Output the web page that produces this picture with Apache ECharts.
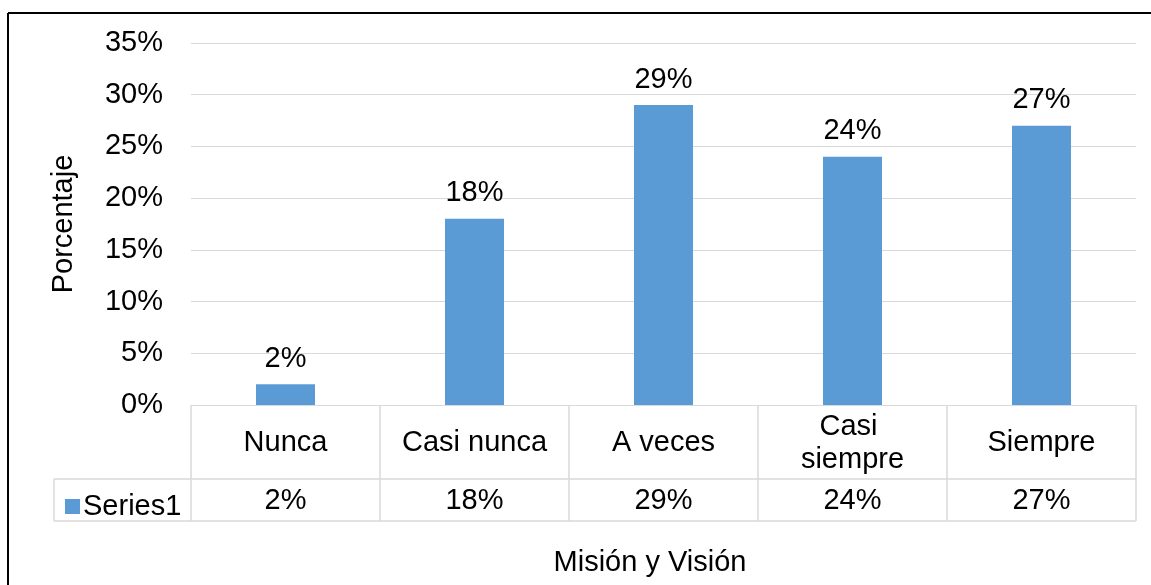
<!DOCTYPE html>
<html>
<head>
<meta charset="utf-8">
<script src="https://cdn.jsdelivr.net/npm/echarts@6/dist/echarts.min.js"></script>
<style>
html,body{margin:0;padding:0;background:#fff;}
#chart{width:1151px;height:585px;}
</style>
</head>
<body>
<div id="chart"></div>
<script>
const categories = ['Nunca', 'Casi nunca', 'A veces', 'Casi siempre', 'Siempre'];
const values = [2, 18, 29, 24, 27];
const seriesName = 'Series1';
const yAxisTitle = 'Porcentaje';
const xAxisTitle = 'Misión y Visión';

const FONT = "'Liberation Sans', Arial, sans-serif";
const FS = 29;
const GRID = '#d9d9d9';
const BAR = '#5b9bd5';

const chart = echarts.init(document.getElementById('chart'), null, {renderer: 'canvas'});

const option = {
  animation: false,
  backgroundColor: '#fff',
  textStyle: {fontFamily: FONT},
  grid: {left: 191, right: 15, top: 43, bottom: 180, containLabel: false},
  legend: {
    show: true, left: 60, top: 487, itemWidth: 15, itemHeight: 15, itemGap: 0,
    icon: 'rect',
    textStyle: {fontSize: FS, color: '#000', fontFamily: FONT, padding: [0,0,0,-2]},
    data: [seriesName]
  },
  xAxis: [{
    type: 'category', data: categories, position: 'bottom',
    axisLine: {show: true, lineStyle: {color: GRID, width: 1}},
    axisTick: {show: false},
    axisLabel: {
      fontSize: FS, color: '#000', fontFamily: FONT, margin: 38,
      verticalAlign: 'middle', lineHeight: 33, width: 155, overflow: 'break', interval: 0
    }
  }, {
    type: 'category', data: categories, position: 'bottom', offset: 96,
    axisLine: {show: false}, axisTick: {show: false},
    axisLabel: {
      fontSize: FS, color: '#000', fontFamily: FONT, margin: 0,
      verticalAlign: 'middle', interval: 0,
      formatter: function (v, i) { return values[i] + '%'; }
    }
  }],
  yAxis: {
    type: 'value', min: 0, max: 35, interval: 5,
    name: yAxisTitle, nameLocation: 'middle', nameGap: 113, nameRotate: 90,
    nameTextStyle: {fontSize: FS, color: '#000', fontFamily: FONT},
    axisLine: {show: false}, axisTick: {show: false},
    axisLabel: {fontSize: FS, color: '#000', fontFamily: FONT, margin: 28, padding: [5, 0, 0, 0], formatter: '{value}%'},
    splitLine: {show: true, lineStyle: {color: GRID, width: 1}}
  },
  series: [{
    name: seriesName, type: 'bar', data: values, barWidth: 59,
    xAxisIndex: 0,
    itemStyle: {color: BAR},
    label: {show: true, position: 'top', distance: 11, fontSize: FS, color: '#000', fontFamily: FONT, formatter: '{c}%'}
  }]
};
chart.setOption(option);

// table lines and frame, positioned through the chart's own scales
const c0 = chart.convertToPixel({xAxisIndex: 0}, categories[0]);
const c1 = chart.convertToPixel({xAxisIndex: 0}, categories[1]);
const band = c1 - c0;
const tLeft = c0 - band / 2;
const tRight = tLeft + categories.length * band;
const y0 = chart.convertToPixel({yAxisIndex: 0}, 0);
const row1 = y0 + 74, row2 = y0 + 116;
const keyLeft = 54;
const ls = {stroke: GRID, lineWidth: 1.5};
const els = [];
function line(x1, y1, x2, y2, style) {
  els.push({type: 'line', silent: true, shape: {x1, y1, x2, y2}, style});
}
line(keyLeft, row1, tRight, row1, ls);
line(keyLeft, row2, tRight, row2, ls);
line(keyLeft, row1, keyLeft, row2, ls);
for (let i = 0; i <= categories.length; i++) {
  const x = tLeft + i * band;
  line(x, y0, x, row2, ls);
}
// outer frame
line(8, 13, 1151, 13, {stroke: '#000', lineWidth: 2});
line(8, 13, 8, 585, {stroke: '#000', lineWidth: 2});
els.push({
  type: 'text', silent: true, x: 650, y: 563,
  style: {text: xAxisTitle, font: FS + 'px ' + FONT, fill: '#000', textAlign: 'center', textVerticalAlign: 'middle'}
});
chart.setOption({graphic: els});
</script>
</body>
</html>
